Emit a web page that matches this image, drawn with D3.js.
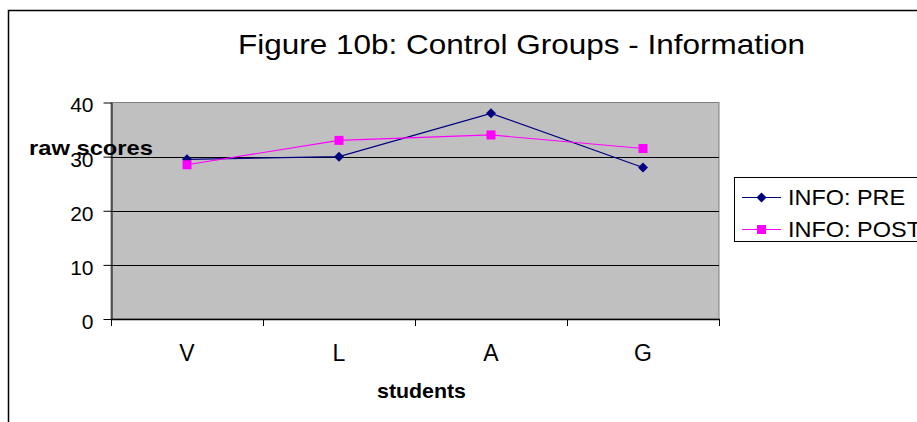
<!DOCTYPE html>
<html>
<head>
<meta charset="utf-8">
<script src="https://cdn.jsdelivr.net/npm/d3@7"></script>
<style>
  html, body { margin: 0; padding: 0; background: #fff; }
  svg { display: block; font-family: "Liberation Sans", Arial, sans-serif; }
</style>
</head>
<body>
<svg id="chart" width="917" height="422"></svg>
<script>
// Student groups along the x axis
const categories = ["V", "L", "A", "G"];
// Raw information scores before and after
const preScores = [29.5, 30, 38, 28];
const postScores = [28.5, 33, 34, 31.5];
// Value axis ticks
const yTicks = [0, 10, 20, 30, 40];
const seriesNames = ["INFO: PRE", "INFO: POST"];

const svg = d3.select("#chart");

// Outer chart frame (runs off the right and bottom edges)
svg.append("rect")
  .attr("x", 8.5).attr("y", 10.5)
  .attr("width", 1000).attr("height", 500)
  .attr("fill", "#fff").attr("stroke", "#000").attr("stroke-width", 1.5);

const plot = { left: 111, right: 719, top: 102.5, bottom: 319 };

const x = d3.scaleBand().domain(categories).range([plot.left, plot.right]).padding(0);
const y = d3.scaleLinear().domain([0, 40]).range([plot.bottom, plot.top]);
const cx = d => x(d) + x.bandwidth() / 2;

// Plot area background
svg.append("rect")
  .attr("x", plot.left).attr("y", plot.top)
  .attr("width", plot.right - plot.left).attr("height", plot.bottom - plot.top)
  .attr("fill", "#c0c0c0").attr("stroke", "#808080").attr("stroke-width", 1);

// Horizontal gridlines
svg.append("g").selectAll("line")
  .data(yTicks.filter(t => t > 0 && t < 40))
  .join("line")
  .attr("x1", plot.left).attr("x2", plot.right)
  .attr("y1", d => Math.round(y(d)) + 0.5).attr("y2", d => Math.round(y(d)) + 0.5)
  .attr("stroke", "#000").attr("stroke-width", 1);

// Y axis
const yAxis = svg.append("g")
  .attr("transform", `translate(${plot.left + 0.5},0)`)
  .call(d3.axisLeft(y).tickValues(yTicks).tickSize(8).tickPadding(10).tickSizeOuter(0));
yAxis.select(".domain").attr("stroke", "#000");
yAxis.selectAll(".tick line").attr("stroke", "#000");
yAxis.selectAll(".tick text")
  .attr("font-size", 21).attr("font-family", "Liberation Sans, Arial, sans-serif")
  .attr("fill", "#000").attr("dy", "0.45em");

// X axis: baseline, boundary ticks and centred category labels
const xAxis = svg.append("g");
xAxis.append("line")
  .attr("x1", plot.left).attr("x2", plot.right + 1)
  .attr("y1", plot.bottom + 0.5).attr("y2", plot.bottom + 0.5)
  .attr("stroke", "#000").attr("stroke-width", 1.5);
const edges = categories.map(d => x(d)).concat([plot.right]);
xAxis.selectAll("line.tk")
  .data(edges).join("line").attr("class", "tk")
  .attr("x1", d => Math.round(d) + 0.5).attr("x2", d => Math.round(d) + 0.5)
  .attr("y1", plot.bottom).attr("y2", plot.bottom + 7)
  .attr("stroke", "#000").attr("stroke-width", 1);
xAxis.selectAll("text")
  .data(categories).join("text")
  .attr("x", d => cx(d)).attr("y", 361)
  .attr("text-anchor", "middle").attr("font-size", 23)
  .text(d => d);

// Series lines and markers
const line = d3.line().x((d, i) => cx(categories[i])).y(d => y(d));

svg.append("path").datum(preScores)
  .attr("d", line).attr("fill", "none")
  .attr("stroke", "#000080").attr("stroke-width", 1.2);
svg.append("path").datum(postScores)
  .attr("d", line).attr("fill", "none")
  .attr("stroke", "#ff00ff").attr("stroke-width", 1.2);

const diamond = (px, py, r) => `M${px},${py - r}L${px + r},${py}L${px},${py + r}L${px - r},${py}Z`;

svg.append("g").selectAll("path")
  .data(preScores).join("path")
  .attr("d", (d, i) => diamond(cx(categories[i]), y(d), 5))
  .attr("fill", "#000080");
svg.append("g").selectAll("rect")
  .data(postScores).join("rect")
  .attr("x", (d, i) => cx(categories[i]) - 4.5).attr("y", d => y(d) - 4.5)
  .attr("width", 9).attr("height", 9)
  .attr("fill", "#ff00ff");

// Title
svg.append("text")
  .attr("x", 238).attr("y", 54)
  .attr("font-size", 28)
  .attr("textLength", 567).attr("lengthAdjust", "spacingAndGlyphs")
  .text("Figure 10b: Control Groups - Information");

// Axis titles
svg.append("text")
  .attr("x", 29).attr("y", 155)
  .attr("font-size", 21).attr("font-weight", "bold")
  .attr("textLength", 124).attr("lengthAdjust", "spacingAndGlyphs")
  .text("raw scores");
svg.append("text")
  .attr("x", 377).attr("y", 398)
  .attr("font-size", 21).attr("font-weight", "bold")
  .attr("textLength", 89).attr("lengthAdjust", "spacingAndGlyphs")
  .text("students");

// Legend
const legend = svg.append("g");
legend.append("rect")
  .attr("x", 734.5).attr("y", 177.5)
  .attr("width", 300).attr("height", 64)
  .attr("fill", "#fff").attr("stroke", "#000").attr("stroke-width", 1);
const legendRows = [
  { name: seriesNames[0], color: "#000080", y: 197, len: 117, shape: "diamond" },
  { name: seriesNames[1], color: "#ff00ff", y: 229, len: 133, shape: "square" }
];
legendRows.forEach(r => {
  legend.append("line")
    .attr("x1", 742).attr("x2", 781)
    .attr("y1", r.y + 0.5).attr("y2", r.y + 0.5)
    .attr("stroke", r.color).attr("stroke-width", 1.2);
  if (r.shape === "diamond") {
    legend.append("path").attr("d", diamond(761.5, r.y + 0.5, 5)).attr("fill", r.color);
  } else {
    legend.append("rect").attr("x", 757).attr("y", r.y - 4).attr("width", 9).attr("height", 9).attr("fill", r.color);
  }
  legend.append("text")
    .attr("x", 788).attr("y", r.y + 8)
    .attr("font-size", 22)
    .attr("textLength", r.len).attr("lengthAdjust", "spacingAndGlyphs")
    .text(r.name);
});
</script>
</body>
</html>
